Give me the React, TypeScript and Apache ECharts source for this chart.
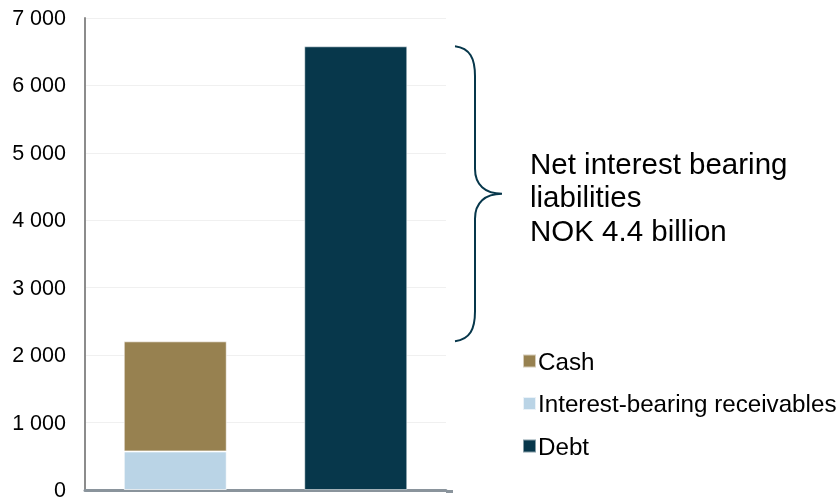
import React, { useEffect, useRef } from "react";
import * as echarts from "echarts";

const categories = ["Assets", "Liabilities"];
const receivables = [572, null];
const cash = [1633, null];
const debt = [null, 6580];
const yTicks = [0, 1000, 2000, 3000, 4000, 5000, 6000, 7000];
const annotationLines = ["Net interest bearing", "liabilities", "NOK 4.4 billion"];
const legendNames = ["Cash", "Interest-bearing receivables", "Debt"];

const FONT = "Liberation Sans, Arial, sans-serif";

export default function App() {
  const ref = useRef<HTMLDivElement>(null);
  useEffect(() => {
    const chart = echarts.init(ref.current!, null, { renderer: "svg" });
    const option: any = {
      animation: false,
      grid: { left: 85, right: 394, top: 18, bottom: 9 },
      legend: {
        orient: "vertical",
        left: 517,
        top: 344,
        data: legendNames,
        itemWidth: 13,
        itemHeight: 13,
        itemGap: 18.5,
        icon: "rect",
        textStyle: { fontSize: 24.2, color: "#000", fontFamily: FONT, lineHeight: 24, padding: [0, 0, 0, -3] },
        selectedMode: false,
      },
      xAxis: {
        type: "category",
        data: categories,
        axisLine: { lineStyle: { color: "#8a949c", width: 3 } },
        axisTick: { show: false },
        axisLabel: { show: false },
      },
      yAxis: {
        type: "value",
        min: yTicks[0],
        max: yTicks[yTicks.length - 1],
        interval: 1000,
        axisLine: { show: true, lineStyle: { color: "#8c8c8c", width: 2 } },
        axisTick: { show: false },
        splitLine: { lineStyle: { color: "#f0f0f0", width: 1 } },
        axisLabel: {
          fontSize: 21.5,
          color: "#000",
          fontFamily: FONT,
          margin: 19,
          formatter: (v: number) => String(v).replace(/\B(?=(\d{3})+(?!\d))/g, " "),
        },
      },
      series: [
        {
          name: "Interest-bearing receivables",
          type: "bar",
          stack: "a",
          data: receivables,
          barWidth: 103,
          itemStyle: { color: "#bad4e6", borderColor: "rgba(255,255,255,0.7)", borderWidth: 1 },
        },
        {
          name: "Cash",
          type: "bar",
          stack: "a",
          data: cash,
          barWidth: 103,
          itemStyle: { color: "#978150", borderColor: "rgba(255,255,255,0.6)", borderWidth: 1 },
        },
        {
          name: "Debt",
          type: "bar",
          stack: "a",
          data: debt,
          barWidth: 103,
          itemStyle: { color: "#07374b", borderColor: "rgba(255,255,255,0.5)", borderWidth: 1 },
        },
      ],
    };
    chart.setOption(option);

    const debtTop = debt[1] as number;
    const cashTop = (receivables[0] as number) + (cash[0] as number);
    const yTop = chart.convertToPixel({ yAxisIndex: 0 }, debtTop) as number;
    const yBot = chart.convertToPixel({ yAxisIndex: 0 }, cashTop) as number;
    const yMid = (yTop + yBot) / 2;
    const x0 = 455, x1 = 475, x2 = 502;
    const d =
      `M${x0},${yTop} C${x0 + 15},${yTop + 2} ${x1},${yTop + 12} ${x1},${yTop + 30} ` +
      `L${x1},${yMid - 25} C${x1},${yMid - 9} ${x1 + 10},${yMid} ${x2},${yMid} ` +
      `C${x1 + 10},${yMid} ${x1},${yMid + 9} ${x1},${yMid + 25} ` +
      `L${x1},${yBot - 30} C${x1},${yBot - 12} ${x0 + 15},${yBot - 2} ${x0},${yBot}`;
    echarts.graphic.registerShape("brace", echarts.graphic.extendPath(d, {}) as any);

    chart.setOption({
      graphic: [
        {
          type: "brace",
          x: 0,
          y: 0,
          style: { fill: "none", stroke: "#07374b", lineWidth: 2 },
          silent: true,
        },
        {
          type: "line",
          shape: { x1: 446, y1: 491.5, x2: 453, y2: 491.5 },
          style: { stroke: "#8a949c", lineWidth: 3 },
          silent: true,
        },
        ...annotationLines.map((t, i) => ({
          type: "text",
          x: 530,
          y: 163 + i * 33.5,
          style: { text: t, fontSize: 29.5, fill: "#000", fontFamily: FONT, verticalAlign: "middle" },
          silent: true,
        })),
      ],
    });

    return () => chart.dispose();
  }, []);
  return <div ref={ref} style={{ position: "fixed", left: 0, top: 0, width: 840, height: 501 }} />;
}
